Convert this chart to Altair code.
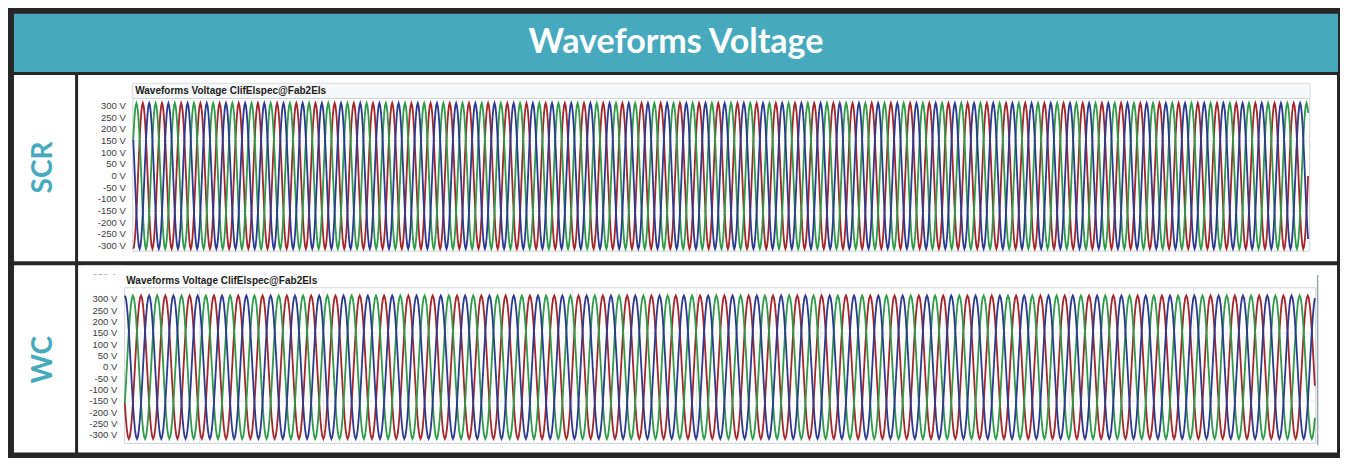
import math
import altair as alt
import pandas as pd

# ---------------- data ----------------
HEADER_TITLE = "Waveforms Voltage"
ROW_LABELS = ["SCR", "WC"]
PANEL_TITLE = "Waveforms Voltage ClifElspec@Fab2Els"
TICK_VALUES = [300, 250, 200, 150, 100, 50, 0, -50, -100, -150, -200, -250, -300]
TICK_LABELS = [f"{v} V" for v in TICK_VALUES]
GRID_VOLTS = [150, -150]
PHASES = ["L1", "L2", "L3"]
PHASE_COLORS = {"L1": "#a3262b", "L2": "#2f9a48", "L3": "#2b3990"}
DRAW_ORDER = ["L1", "L2", "L3"]

# one cycle of each trace, 24 samples (15 deg apart) (V)
SCR_CYCLE = [312, 301, 270, 221, 156, 81, 0, -81, -156, -221, -270, -301,
             -312, -301, -270, -221, -156, -81, 0, 81, 156, 221, 270, 301]
WC_CYCLE = [316, 305, 274, 223, 158, 82, 0, -82, -158, -223, -274, -305,
            -316, -305, -274, -223, -158, -82, 0, 82, 158, 223, 274, 305]
# phase position of each trace inside the cycle (in samples)
SCR_SHIFT = {"L1": 12, "L2": 4, "L3": 20}
WC_SHIFT = {"L1": 16, "L2": 8, "L3": 0}
SCR_PERIOD_MS = 20.0
SCR_CYCLES = 61.28
SCR_T0 = 0.0
WC_PERIOD_MS = 19.56
WC_CYCLES = 48.97
WC_T0 = 40.0
WC_GRID_MS = [100, 200, 300, 400, 500, 600, 700, 800, 900]


def wave_frame(cycle, shifts, period, n_cycles, t0):
    rows = []
    n = len(cycle)
    t_end = t0 + n_cycles * period
    for ph in PHASES:
        for c in range(int(math.ceil(n_cycles)) + 1):
            for k in range(n):
                t = t0 + (c + k / n) * period
                if t > t_end + 1e-9:
                    break
                rows.append({"phase": ph, "t": t, "v": cycle[(k - shifts[ph]) % n]})
    return pd.DataFrame(rows)


scr_df = wave_frame(SCR_CYCLE, SCR_SHIFT, SCR_PERIOD_MS, SCR_CYCLES, SCR_T0)
wc_df = wave_frame(WC_CYCLE, WC_SHIFT, WC_PERIOD_MS, WC_CYCLES, WC_T0)
ticks_df = pd.DataFrame({"v": TICK_VALUES, "label": TICK_LABELS})
grid_df = pd.DataFrame({"v": GRID_VOLTS})
wc_grid_df = pd.DataFrame({"t": WC_GRID_MS})

# ---------------- layout helpers ----------------
W, H = 1332, 450


def fx(r):
    return (r - 5) * W / 1340


def fy(r):
    return (r - 5) * H / 460


ONE = pd.DataFrame({"k": [0]})


def box(x0, x1, y0, y1, fill, stroke=None, sw=1.0):
    kw = dict(fill=fill)
    if stroke:
        kw.update(stroke=stroke, strokeWidth=sw)
    else:
        kw.update(strokeWidth=0)
    return alt.Chart(ONE).mark_rect(**kw).encode(
        x=alt.value(fx(x0)), x2=alt.value(fx(x1)),
        y=alt.value(fy(y0)), y2=alt.value(fy(y1)))


def label(text, x, y, size, color, weight="normal", font="Liberation Sans",
          align="left", baseline="middle", angle=0):
    kw = dict(font=font, fontSize=size, color=color, fontWeight=weight,
              align=align, baseline=baseline)
    if angle:
        kw["angle"] = angle
    return alt.Chart(pd.DataFrame({"s": [text]})).mark_text(**kw).encode(
        x=alt.value(fx(x)), y=alt.value(fy(y)), text="s:N")


def panel(df, t0, t1, px0, px1, y300, ym300, frame, title_xy, label_x, vgrid=None):
    xs = alt.Scale(domain=[t0, t1], range=[fx(px0), fx(px1)], nice=False, zero=False)
    ys = alt.Scale(domain=[-300, 300], range=[fy(ym300), fy(y300)], nice=False, zero=False)
    layers = []
    fx0, fx1, fy0, fy1 = frame
    layers.append(box(fx0, fx1, fy0, fy1, "#ffffff", "#cfd4d9", 1))
    layers.append(alt.Chart(grid_df).mark_rule(color="#e8ebee", strokeWidth=1).encode(
        y=alt.Y("v:Q", scale=ys, axis=None),
        x=alt.value(fx(fx0 + 1)), x2=alt.value(fx(fx1 - 1))))
    if vgrid is not None:
        layers.append(alt.Chart(vgrid).mark_rule(color="#e3e6ea", strokeWidth=1).encode(
            x=alt.X("t:Q", scale=xs, axis=None),
            y=alt.value(fy(fy0 + 1)), y2=alt.value(fy(fy1 - 1))))
    for ph in DRAW_ORDER:
        layers.append(alt.Chart(df[df.phase == ph]).mark_line(
            color=PHASE_COLORS[ph], strokeWidth=1.8).encode(
            x=alt.X("t:Q", scale=xs, axis=None),
            y=alt.Y("v:Q", scale=ys, axis=None)))
    layers.append(alt.Chart(ticks_df).mark_text(
        font="Liberation Sans", fontSize=9.5, color="#3b3b45", align="right",
        baseline="middle").encode(
        y=alt.Y("v:Q", scale=ys, axis=None), x=alt.value(fx(label_x)), text="label:N"))
    layers.append(label(PANEL_TITLE, title_xy[0], title_xy[1], 10, "#1c1c1c",
                        weight="bold"))
    return layers


TEAL = "#46a9be"
DARK = "#272526"

layers = []
# frame & cells
layers.append(box(5, 1347, 5, 465, DARK))
layers.append(box(11, 1343, 11, 70.5, TEAL))
layers.append(box(11, 72.5, 73.5, 264, "#ffffff"))
layers.append(box(75.5, 1342, 73.5, 264, "#ffffff"))
layers.append(box(11, 72.5, 268, 459.5, "#ffffff"))
layers.append(box(75.5, 1342, 268, 459.5, "#ffffff"))

layers.append(label(HEADER_TITLE, 677, 41, 34, "#ffffff", weight="bold",
                    font="Lato", align="center"))
layers.append(label(ROW_LABELS[0], 41, 168, 28, TEAL, weight="bold", font="Lato",
                    align="center", angle=270))
layers.append(label(ROW_LABELS[1], 41, 364.5, 28, TEAL, weight="bold", font="Lato",
                    align="center", angle=270))

# SCR panel
layers.append(box(130, 1315, 82, 97.5, "#f6f7f8", "#d9dde1", 1))
layers += panel(scr_df, SCR_T0, SCR_T0 + SCR_CYCLES * SCR_PERIOD_MS,
                131, 1313.5, 105, 248.3, (130.5, 1314.5, 97.5, 253.5),
                (133, 90), 123.5)

# WC panel
layers.append(label("350 V", 115, 280, 9.5, "#3b3b45", align="right",
                    baseline="bottom"))
layers.append(box(80, 120, 268.5, 277.5, "#ffffff"))
layers += panel(wc_df, WC_T0, WC_T0 + WC_CYCLES * WC_PERIOD_MS,
                122.5, 1320, 302.7, 441.7, (122.3, 1320.5, 291, 450),
                (124, 284.3), 115, vgrid=wc_grid_df)
layers.append(alt.Chart(ONE).mark_rule(color="#98a6b4", strokeWidth=1.5).encode(
    x=alt.value(fx(1322.5)), y=alt.value(fy(278)), y2=alt.value(fy(452))))

chart = alt.layer(*layers).resolve_scale(
    x="independent", y="independent").properties(
    width=W, height=H, autosize=alt.AutoSizeParams(type="none"), padding=0
).configure_view(stroke=None)

chart.save("out.html", embed_options={"renderer": "svg", "actions": False})
